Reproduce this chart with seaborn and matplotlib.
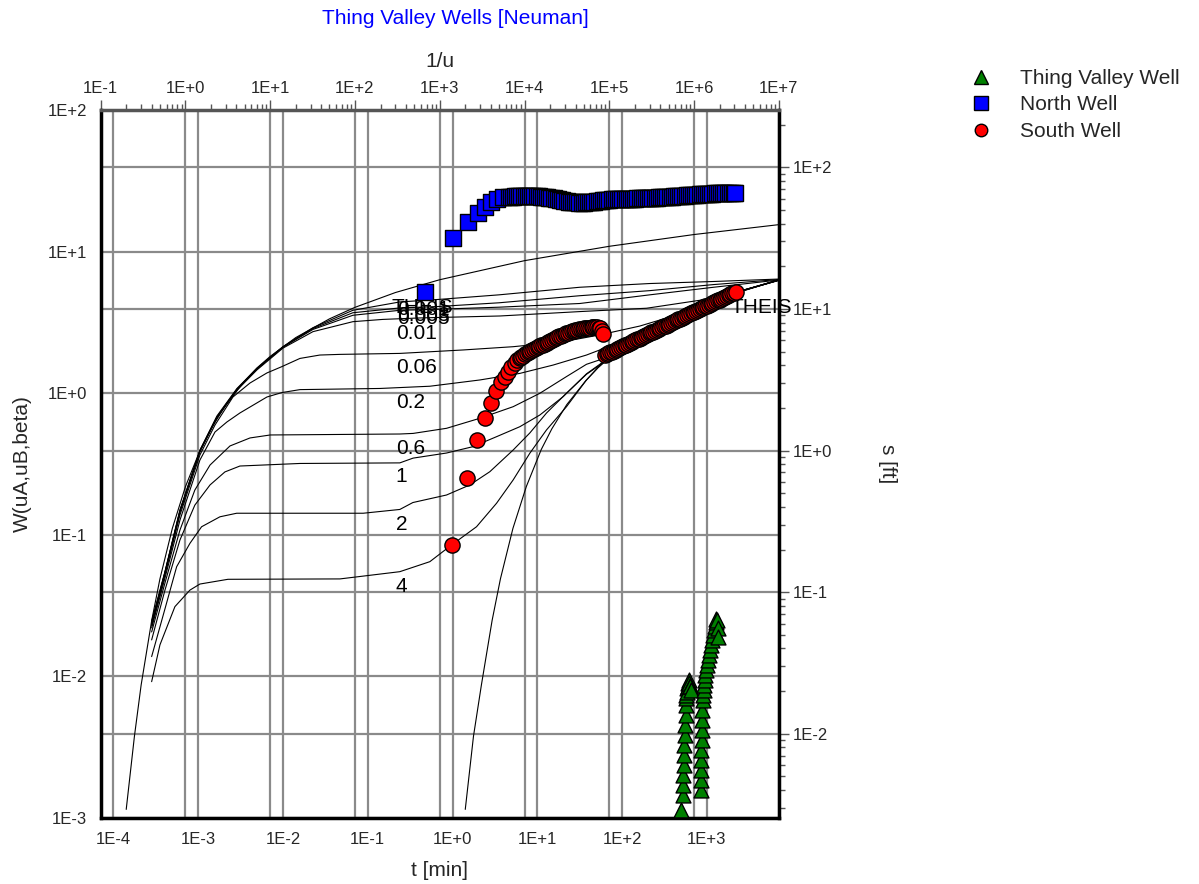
import matplotlib
matplotlib.use("Agg")
import matplotlib.pyplot as plt
import seaborn as sns
import pandas as pd
import numpy as np
from matplotlib.ticker import FixedLocator, FuncFormatter, NullFormatter, NullLocator
from matplotlib.lines import Line2D

sns.set_style("white")
plt.rcParams['font.family'] = ['Liberation Sans', 'DejaVu Sans']
plt.rcParams['font.size'] = 12

# ---------------- data: type curves (1/u, W) ----------------
theis_a_inv_u = [0.2, 0.25, 0.3, 0.4, 0.5, 0.7, 1, 1.5, 2, 3, 5, 7, 10, 20, 50, 100, 300, 1e3, 1e4, 1e5, 1e6, 1e7]
theis_a_w = [0.00115, 0.00378, 0.0087, 0.0249, 0.0489, 0.111, 0.219, 0.40, 0.56, 0.83, 1.22, 1.51, 1.82, 2.47, 3.35, 4.04, 5.14, 6.33, 8.63, 10.9, 13.2, 15.5]

theis_b_inv_u = [2000, 2500, 3100, 4150, 5200, 7300, 10500, 15750, 21000, 31500, 52500, 73500, 105000, 210000, 525000, 1.05e6, 3.15e6, 1e7]
theis_b_w = [0.00115, 0.00378, 0.0087, 0.0249, 0.0489, 0.111, 0.219, 0.40, 0.56, 0.83, 1.22, 1.51, 1.82, 2.47, 3.35, 4.04, 5.14, 6.28]

b4_inv_u = [0.399, 0.50, 0.751, 1.13, 1.48, 3.17, 66.4, 338, 764, 1377, 2716, 4677, 7345, 11560, 18160, 31270, 53830, 77270, 105000, 210000, 525000, 1.05e6, 3.15e6, 1e7]
b4_w = [0.00918, 0.0167, 0.0311, 0.0407, 0.0449, 0.0485, 0.0488, 0.0549, 0.0646, 0.0847, 0.114, 0.167, 0.244, 0.377, 0.550, 0.803, 1.24, 1.57, 1.84, 2.48, 3.36, 4.05, 5.15, 6.3]

b2_inv_u = [0.399, 0.573, 0.787, 1.13, 1.55, 2.55, 4.02, 125, 338, 482, 1202, 2265, 3898, 7345, 11560, 18160, 31270, 53830, 77270, 105000, 210000, 525000, 1.05e6, 3.15e6, 1e7]
b2_w = [0.0138, 0.030, 0.0595, 0.0871, 0.114, 0.134, 0.142, 0.142, 0.151, 0.169, 0.191, 0.225, 0.279, 0.397, 0.524, 0.724, 1.00, 1.36, 1.58, 1.84, 2.48, 3.36, 4.05, 5.15, 6.3]

b1_inv_u = [0.399, 0.573, 0.861, 1.29, 1.95, 2.92, 4.39, 22.4, 338, 485, 1202, 2455, 4677, 8810, 15140, 28510, 53830, 77270, 105000, 210000, 525000, 1.05e6, 3.15e6, 1e7]
b1_w = [0.0181, 0.0407, 0.0919, 0.162, 0.225, 0.278, 0.306, 0.319, 0.322, 0.348, 0.378, 0.419, 0.493, 0.580, 0.701, 0.945, 1.37, 1.60, 1.84, 2.48, 3.36, 4.05, 5.15, 6.3]

b06_inv_u = [0.399, 0.573, 0.861, 1.29, 1.95, 3.35, 5.77, 10, 338, 485, 1202, 2972, 7345, 15140, 31270, 53830, 77270, 105000, 210000, 525000, 1.05e6, 3.15e6, 1e7]
b06_w = [0.0206, 0.0457, 0.108, 0.207, 0.311, 0.424, 0.483, 0.507, 0.515, 0.520, 0.565, 0.665, 0.803, 0.998, 1.31, 1.60, 1.72, 1.88, 2.49, 3.37, 4.05, 5.15, 6.3]

b02_inv_u = [0.399, 0.573, 0.861, 1.48, 2.23, 3.08, 4.39, 9.14, 13.7, 22.4, 197, 764, 2972, 8810, 21730, 53830, 77270, 174600, 394500, 1.05e6, 3.15e6, 1e7]
b02_w = [0.0220, 0.0495, 0.127, 0.337, 0.532, 0.626, 0.725, 0.940, 1.01, 1.06, 1.08, 1.12, 1.24, 1.38, 1.58, 1.86, 2.02, 2.42, 3.1, 4.07, 5.17, 6.32]

b006_inv_u = [0.399, 0.573, 0.861, 1.48, 2.23, 3.63, 5.77, 9.14, 13.7, 22.4, 38.5, 66.4, 338, 1888, 7345, 28510, 77270, 229100, 677600, 2.01e6, 1e7]
b006_w = [0.0227, 0.0520, 0.138, 0.366, 0.596, 0.940, 1.18, 1.39, 1.54, 1.76, 1.86, 1.88, 1.91, 2.02, 2.13, 2.31, 2.58, 2.98, 3.62, 4.7, 6.3]

b001_inv_u = [0.399, 0.573, 0.861, 1.48, 2.35, 4.05, 6.97, 14.1, 31.9, 94.4, 213, 582, 5117, 44870, 274800, 1.675e6, 1e7]
b001_w = [0.0231, 0.0537, 0.145, 0.385, 0.668, 1.05, 1.46, 2.08, 2.72, 3.20, 3.32, 3.40, 3.51, 3.77, 3.98, 4.68, 6.25]

small_inv_u = [0.399, 0.573, 0.861, 1.48, 2.35, 4.05, 6.97, 14.1, 31.9, 94.4, 338, 1000, 5000, 44870, 300000, 1.7e6, 1e7]
b0005_w = [0.0235, 0.054, 0.147, 0.39, 0.675, 1.06, 1.48, 2.11, 2.82, 3.55, 3.85, 3.92, 4.05, 4.3, 4.95, 5.6, 6.3]
b0003_w = [0.024, 0.0545, 0.148, 0.392, 0.68, 1.07, 1.49, 2.12, 2.86, 3.7, 4.0, 4.1, 4.35, 4.88, 5.3, 5.85, 6.35]
b00001_w = [0.0245, 0.055, 0.15, 0.395, 0.69, 1.08, 1.5, 2.13, 2.9, 3.85, 4.41, 4.6, 4.95, 5.6, 5.95, 6.15, 6.4]

# curve labels (text, 1/u position, W position)
curve_labels = ["THEIS", "0.001", "0.003", "0.005", "0.01", "0.06", "0.2", "0.6", "1", "2", "4"]
label_inv_u = [272, 318, 310, 318, 303, 303, 303, 303, 303, 303, 303]
label_w = [4.05, 3.87, 3.51, 3.35, 2.66, 1.53, 0.853, 0.404, 0.256, 0.119, 0.0428]

# axis tick decades
u_ticks = [1e-1, 1e0, 1e1, 1e2, 1e3, 1e4, 1e5, 1e6, 1e7]
w_ticks = [1e-3, 1e-2, 1e-1, 1e0, 1e1, 1e2]
t_ticks = [1e-4, 1e-3, 1e-2, 1e-1, 1e0, 1e1, 1e2, 1e3]
s_ticks = [1e-2, 1e-1, 1e0, 1e1, 1e2]

# ---------------- data: observations (t [min], s [ft]) ----------------
north_t = [0.478, 1.0, 1.53, 1.97, 2.40, 2.88, 3.36, 3.95,
           4.6, 4.9, 5.2, 5.5, 5.8, 6.1, 6.5, 6.9, 7.3, 7.7, 8.2, 8.7, 9.2, 9.8, 10.4, 11.0, 11.7, 12.4, 13.1,
           13.9, 14.7, 15.6, 16.5, 17.5, 18.6, 19.7, 20.9, 22.1, 23.5, 24.9, 26.4, 28.0, 29.6, 31.4, 33.3, 35.3,
           37.4, 39.6, 42.0, 44.5, 47.2, 50.0, 53.0, 56.2, 59.6, 63.2, 67.0, 71.0, 75.2, 79.7, 84.5, 89.6, 95.0,
           101, 107, 113, 120, 127, 135, 143, 152, 161, 170, 181, 191, 203, 215, 228, 242, 256, 272, 288, 305,
           323, 343, 363, 385, 408, 433, 459, 486, 515, 546, 579, 614, 651, 690, 731, 775, 822, 871, 923, 979,
           1038, 1100, 1166, 1236, 1310, 1389, 1472, 1560, 1654, 1753, 1858, 1970, 2088, 2133]
north_s = [13.2, 31.5, 40.9, 47.4, 52.7, 56.6, 59.8, 62.0,
           62.0, 62.1, 62.2, 62.3, 62.4, 62.4, 62.5, 62.5, 62.5, 62.5, 62.5, 62.5, 62.5, 62.4, 62.3, 62.2, 62.0,
           61.8, 61.5, 61.1, 60.7, 60.3, 59.8, 59.3, 58.8, 58.4, 58.0, 57.6, 57.3, 57.0, 56.8, 56.6, 56.5, 56.4,
           56.4, 56.4, 56.5, 56.6, 56.8, 57.0, 57.3, 57.6, 57.9, 58.2, 58.5, 58.8, 59.0, 59.2, 59.4, 59.6, 59.7,
           59.8, 59.9, 60.0, 60.0, 60.0, 60.1, 60.1, 60.2, 60.2, 60.3, 60.4, 60.5, 60.6, 60.7, 60.8, 60.9, 61.0,
           61.1, 61.2, 61.3, 61.4, 61.5, 61.6, 61.8, 62.0, 62.2, 62.4, 62.5, 62.7, 62.9, 63.0, 63.2, 63.4, 63.5,
           63.7, 63.9, 64.0, 64.2, 64.4, 64.6, 64.8, 65.0, 65.1, 65.2, 65.3, 65.4, 65.5, 65.6, 65.7, 65.8, 65.9,
           66.0, 66.0, 66.1, 66.2, 66.2]

south_t = [0.973, 1.49, 1.92, 2.40, 2.83, 3.30, 3.78, 4.14, 4.53, 4.96, 5.43, 5.8,
           6.2, 6.5, 6.8, 7.2, 7.5, 7.9, 8.3, 8.7, 9.2, 9.6, 10.1, 10.6, 11.1, 11.7, 12.3, 12.9, 13.5, 14.2,
           14.9, 15.7, 16.4, 17.3, 18.1, 19.0, 20.0, 21.0, 22.0, 23.1, 24.3, 25.5, 26.8, 28.1, 29.5, 31.0, 32.6,
           34.2, 35.9, 37.7, 39.6, 41.5, 43.6, 45.8, 48.1, 50.5, 53.0, 55.0, 57.5, 59.7,
           62.5, 65.6, 68.9, 72.3, 76.0, 79.8, 83.8, 87.9, 92.3, 97.0, 101.8, 106.9, 112, 118, 124, 130, 136,
           143, 150, 158, 166, 174, 183, 192, 201, 211, 222, 233, 245, 257, 270, 283, 297, 312, 328, 344, 361,
           379, 398, 418, 439, 461, 484, 508, 534, 560, 588, 618, 649, 681, 715, 751, 789, 828, 870, 913, 959,
           1007, 1057, 1110, 1165, 1224, 1285, 1349, 1417, 1487, 1562, 1640, 1722, 1808, 1898, 1993, 2093, 2190]
south_s = [0.215, 0.637, 1.19, 1.71, 2.18, 2.63, 3.06, 3.32, 3.60, 3.91, 4.17, 4.35,
           4.51, 4.59, 4.67, 4.78, 4.85, 4.95, 5.03, 5.11, 5.21, 5.28, 5.37, 5.45, 5.52, 5.60, 5.69, 5.78, 5.88,
           5.97, 6.07, 6.17, 6.24, 6.33, 6.40, 6.47, 6.55, 6.63, 6.71, 6.79, 6.87, 6.94, 7.00, 7.06, 7.12, 7.16,
           7.21, 7.25, 7.28, 7.32, 7.35, 7.38, 7.41, 7.43, 7.45, 7.45, 7.38, 7.28, 7.00, 6.65,
           4.73, 4.80, 4.87, 4.93, 5.00, 5.08, 5.15, 5.22, 5.29, 5.37, 5.45, 5.52, 5.60, 5.68, 5.76, 5.84, 5.93,
           6.01, 6.10, 6.18, 6.27, 6.36, 6.45, 6.54, 6.63, 6.73, 6.82, 6.92, 7.02, 7.12, 7.22, 7.32, 7.43, 7.53,
           7.64, 7.75, 7.86, 7.97, 8.08, 8.20, 8.31, 8.43, 8.55, 8.67, 8.79, 8.92, 9.05, 9.17, 9.31, 9.44, 9.57,
           9.71, 9.84, 9.98, 10.13, 10.27, 10.42, 10.56, 10.71, 10.86, 11.02, 11.18, 11.33, 11.49, 11.66,
           11.82, 11.99, 12.16, 12.33, 12.51, 12.69, 12.87, 13.05, 13.24]

tv_t = [501, 520, 520, 527, 535, 535, 542, 549, 549, 564, 564, 572, 573, 580, 588, 595, 604, 612, 621, 629,
        638, 658,
        847, 847, 847, 859, 859, 871, 871, 871, 883, 895, 907, 919, 931, 945, 957, 971, 998, 1025, 1053, 1082,
        1112, 1143, 1175, 1207, 1240, 1274, 1292, 1309, 1356, 1356]
tv_s = [0.00289, 0.00369, 0.00435, 0.00511, 0.00601, 0.00708, 0.00834, 0.0098, 0.0115, 0.0136, 0.016, 0.0179,
        0.0188, 0.021, 0.0197, 0.0228, 0.0217, 0.024, 0.0228, 0.0217, 0.0217, 0.0204,
        0.00401, 0.00471, 0.00555, 0.00653, 0.00768, 0.00904, 0.0106, 0.0125, 0.0147, 0.0173, 0.0188, 0.0204,
        0.0221, 0.024, 0.026, 0.0282, 0.0306, 0.0332, 0.036, 0.039, 0.0424, 0.0459, 0.0498, 0.0541, 0.0577,
        0.0615, 0.0646, 0.0636, 0.0558, 0.0485]

# ---------------- build tables ----------------
curves = [
    ("THEIS A", theis_a_inv_u, theis_a_w), ("THEIS B", theis_b_inv_u, theis_b_w),
    ("4", b4_inv_u, b4_w), ("2", b2_inv_u, b2_w), ("1", b1_inv_u, b1_w), ("0.6", b06_inv_u, b06_w),
    ("0.2", b02_inv_u, b02_w), ("0.06", b006_inv_u, b006_w), ("0.01", b001_inv_u, b001_w),
    ("0.005", small_inv_u, b0005_w), ("0.003", small_inv_u, b0003_w), ("0.001", small_inv_u, b00001_w),
]
curve_df = pd.concat([pd.DataFrame({"inv_u": x, "W": y, "curve": n}) for n, x, y in curves], ignore_index=True)

# ---------------- figure layout ----------------
W_PX, H_PX = 1199, 884
fig = plt.figure(figsize=(W_PX / 100, H_PX / 100), dpi=100)
x0, x1, y0, y1 = 100.7, 778.8, 110, 818
rect = [x0 / W_PX, 1 - y1 / H_PX, (x1 - x0) / W_PX, (y1 - y0) / H_PX]

t_lim = (10 ** -4.151, 10 ** 3.849)
s_lim = (10 ** -2.595, 10 ** 2.405)
u_lim = (0.1, 1e7)
w_lim = (1e-3, 1e2)


def minors(lo, hi):
    out = []
    for e in range(int(np.floor(np.log10(lo))) - 1, int(np.ceil(np.log10(hi))) + 1):
        for k in range(2, 10):
            v = k * 10.0 ** e
            if lo <= v <= hi:
                out.append(v)
    return out


ax_d = fig.add_axes(rect)            # t / s axes (bottom, right)
ax_c = fig.add_axes(rect)            # 1/u / W axes (top, left) with curves
ax_m = fig.add_axes(rect)            # markers on top
for a in (ax_d, ax_c, ax_m):
    a.set_xscale('log'); a.set_yscale('log')
    a.patch.set_alpha(0)
ax_d.patch.set_alpha(1); ax_d.patch.set_facecolor('white')
ax_d.set_xlim(*t_lim); ax_d.set_ylim(*s_lim)
ax_c.set_xlim(*u_lim); ax_c.set_ylim(*w_lim)

fmt = FuncFormatter(lambda v, p: f"1E{int(round(np.log10(v))):+d}")
grid_kw = dict(color='#8a8a8a', lw=1.6)
tick_col = '#555555'
LAB = 15

# bottom / right axes
ax_d.xaxis.set_major_locator(FixedLocator(t_ticks))
ax_d.xaxis.set_minor_locator(FixedLocator(minors(*t_lim)))
ax_d.yaxis.set_major_locator(FixedLocator(s_ticks))
ax_d.yaxis.set_minor_locator(FixedLocator(minors(*s_lim)))
ax_d.xaxis.set_major_formatter(fmt); ax_d.yaxis.set_major_formatter(fmt)
ax_d.xaxis.set_minor_formatter(NullFormatter()); ax_d.yaxis.set_minor_formatter(NullFormatter())
ax_d.yaxis.tick_right(); ax_d.yaxis.set_label_position('right')
ax_d.grid(True, which='major', **grid_kw)
ax_d.tick_params(which='major', direction='out', length=7, width=1, color=tick_col, labelsize=12, pad=3)
ax_d.tick_params(which='minor', direction='out', length=4, width=1, color=tick_col)
ax_d.tick_params(which='both', top=False, left=False, labeltop=False, labelleft=False)

# top / left axes
ax_c.xaxis.set_major_locator(FixedLocator(u_ticks))
ax_c.xaxis.set_minor_locator(FixedLocator(minors(*u_lim)))
ax_c.yaxis.set_major_locator(FixedLocator(w_ticks))
ax_c.yaxis.set_minor_locator(FixedLocator(minors(*w_lim)))
ax_c.xaxis.set_major_formatter(fmt); ax_c.yaxis.set_major_formatter(fmt)
ax_c.xaxis.set_minor_formatter(NullFormatter()); ax_c.yaxis.set_minor_formatter(NullFormatter())
ax_c.xaxis.tick_top(); ax_c.xaxis.set_label_position('top')
ax_c.grid(True, which='major', **grid_kw)
ax_c.tick_params(which='major', direction='out', length=7, width=1, color=tick_col, labelsize=12, pad=3)
ax_c.tick_params(which='minor', direction='out', length=4, width=1, color=tick_col)
ax_c.tick_params(which='both', bottom=False, right=False, labelbottom=False, labelright=False)

for a in (ax_d, ax_c):
    for sp in a.spines.values():
        sp.set_visible(False)

# type curves
sns.lineplot(data=curve_df, x='inv_u', y='W', units='curve', estimator=None, sort=False,
             color='black', lw=0.8, ax=ax_c, legend=False)
ax_c.set_xlim(*u_lim); ax_c.set_ylim(*w_lim)
for txt, xu, yw in zip(curve_labels, label_inv_u, label_w):
    ax_c.text(xu, yw, txt, fontsize=LAB, ha='left', va='center', color='black')
ax_c.text(2.7e6, 4.0, "THEIS", fontsize=LAB, ha='left', va='center', color='black')

# axis titles
ax_d.set_xlabel('t [min]', fontsize=LAB, labelpad=10)
ax_d.set_ylabel('s [ft]', fontsize=LAB, rotation=270, labelpad=47)
ax_c.set_xlabel('1/u', fontsize=LAB, labelpad=10)
ax_c.set_ylabel('W(uA,uB,beta)', fontsize=LAB, labelpad=11)

# observations
sns.scatterplot(x=tv_t, y=tv_s, marker='^', color='#008000', edgecolor='black', linewidth=1, s=115,
                ax=ax_m, legend=False, zorder=3)
sns.scatterplot(x=north_t, y=north_s, marker='s', color='#0000FF', edgecolor='black', linewidth=1, s=130,
                ax=ax_m, legend=False, zorder=3)
sns.scatterplot(x=south_t, y=south_s, marker='o', color='#FF0000', edgecolor='black', linewidth=1, s=120,
                ax=ax_m, legend=False, zorder=3)
ax_m.set_xlim(*t_lim); ax_m.set_ylim(*s_lim)
ax_m.xaxis.set_major_locator(NullLocator()); ax_m.xaxis.set_minor_locator(NullLocator())
ax_m.yaxis.set_major_locator(NullLocator()); ax_m.yaxis.set_minor_locator(NullLocator())
ax_m.tick_params(which='both', bottom=False, left=False, labelbottom=False, labelleft=False)
ax_m.set_xlabel(None); ax_m.set_ylabel(None)
for side, sp in ax_m.spines.items():
    sp.set_visible(True)
    sp.set_linewidth(2.5)
    sp.set_color('black' if side in ('left', 'right', 'bottom') else '#555555')

# title
fig.text(455 / W_PX, 1 - 18 / H_PX, "Thing Valley Wells [Neuman]", color='#0000FF', fontsize=LAB,
         ha='center', va='center')

# legend
handles = [
    Line2D([], [], ls='none', marker='^', ms=10, mfc='#008000', mec='black', mew=1),
    Line2D([], [], ls='none', marker='s', ms=9.5, mfc='#0000FF', mec='black', mew=1),
    Line2D([], [], ls='none', marker='o', ms=9, mfc='#FF0000', mec='black', mew=1),
]
fig.legend(handles, ["Thing Valley Well", "North Well", "South Well"], loc='upper left',
           bbox_to_anchor=(970.6 / W_PX, 1 - 69 / H_PX), frameon=False, fontsize=LAB,
           handlelength=1.0, handletextpad=1.375, labelspacing=0.36, borderaxespad=0, borderpad=0)

fig.savefig('out.png', dpi=100)
